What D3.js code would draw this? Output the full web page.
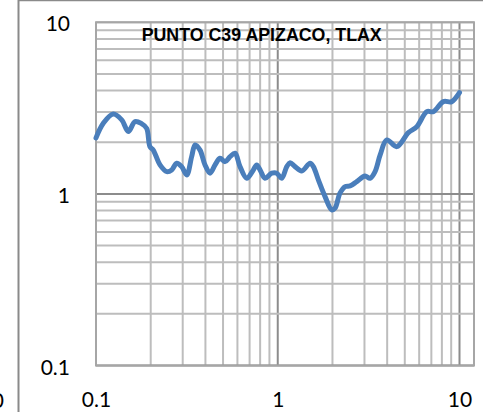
<!DOCTYPE html>
<html>
<head>
<meta charset="utf-8">
<script src="https://cdn.jsdelivr.net/npm/d3@7"></script>
<style>
  html, body { margin: 0; padding: 0; background: #fff; }
  svg { display: block; }
  .lbl { font-family: "Lato", "Liberation Sans", sans-serif; font-size: 21px; fill: #000; }
  .title { font-family: "Liberation Sans", sans-serif; font-weight: bold; font-size: 17.8px; fill: #000; }
</style>
</head>
<body>
<svg id="chart" width="483" height="412"></svg>
<script>
// Spectral ratio curve, log-log
const period = [0.1, 0.1097, 0.1245, 0.1385, 0.1506, 0.164, 0.178, 0.190, 0.198, 0.2066,
  0.225, 0.245, 0.261, 0.278, 0.296, 0.3157, 0.336, 0.351, 0.3736, 0.398,
  0.424, 0.452, 0.481, 0.513, 0.5465, 0.582, 0.620, 0.675, 0.734, 0.766,
  0.799, 0.851, 0.927, 0.987, 1.052, 1.121, 1.169, 1.245, 1.355, 1.506,
  1.570, 1.673, 1.821, 1.982, 2.066, 2.20, 2.35, 2.50, 2.72, 3.02,
  3.22, 3.43, 3.66, 3.98, 4.52, 5.23, 5.82, 6.61, 7.18, 8.15,
  9.07, 10.0];
const ratio = [2.12, 2.58, 2.92, 2.70, 2.31, 2.64, 2.57, 2.41, 1.886, 1.80,
  1.475, 1.349, 1.38, 1.51, 1.442, 1.29, 1.649, 1.93, 1.80, 1.475,
  1.32, 1.475, 1.614, 1.542, 1.649, 1.726, 1.442, 1.234, 1.38, 1.475,
  1.38, 1.234, 1.32, 1.32, 1.234, 1.442, 1.52, 1.442, 1.361, 1.51,
  1.442, 1.206, 0.964, 0.807, 0.825, 1.01, 1.103, 1.113, 1.179, 1.273,
  1.234, 1.349, 1.687, 2.063, 1.886, 2.275, 2.466, 3.015, 3.015, 3.45,
  3.45, 3.89];
const xTickLabels = [0.1, 1, 10];
const yTickLabels = [0.1, 1, 10];
const chartTitle = "PUNTO C39 APIZACO, TLAX";

const svg = d3.select("#chart");
const plot = { left: 96, right: 474, top: 22.3, bottom: 365.5 };

const x = d3.scaleLog().domain([0.1, 10]).range([96, 459.5]);
const y = d3.scaleLog().domain([0.1, 10]).range([plot.bottom, plot.top]);

// outer frame pieces
svg.append("line").attr("x1", 18.5).attr("x2", 18.5).attr("y1", 0).attr("y2", 412)
  .attr("stroke", "#8a8a8a").attr("stroke-width", 2);
svg.append("line").attr("x1", 18).attr("x2", 483).attr("y1", 0.5).attr("y2", 0.5)
  .attr("stroke", "#8a8a8a").attr("stroke-width", 1.5);
// clipped label from the neighbouring panel
svg.append("text").attr("class", "lbl").attr("x", 4).attr("y", 399)
  .attr("text-anchor", "end").attr("dominant-baseline", "central").text("10");

const isMajor = v => Math.abs(Math.log10(v) - Math.round(Math.log10(v))) < 1e-6;

// gridlines
const grid = svg.append("g");
const xt = x.ticks();
const yt = y.ticks();
grid.selectAll("line.gx").data(xt).join("line")
  .attr("x1", d => x(d)).attr("x2", d => x(d))
  .attr("y1", plot.top).attr("y2", plot.bottom)
  .attr("stroke", d => isMajor(d) ? "#8c8c8c" : "#bdbdbd")
  .attr("stroke-width", 2);
grid.selectAll("line.gy").data(yt).join("line")
  .attr("x1", plot.left).attr("x2", plot.right)
  .attr("y1", d => y(d)).attr("y2", d => y(d))
  .attr("stroke", d => isMajor(d) && d !== 10 ? "#8c8c8c" : "#bdbdbd")
  .attr("stroke-width", 2);

// plot border
svg.append("rect").attr("x", plot.left).attr("y", plot.top)
  .attr("width", plot.right - plot.left).attr("height", plot.bottom - plot.top)
  .attr("fill", "none").attr("stroke", "#a6a6a6").attr("stroke-width", 2);

// axes labels
const xAxis = d3.axisBottom(x).tickValues(xTickLabels).tickSize(0).tickPadding(0)
  .tickFormat(d3.format("~g"));
const gx = svg.append("g").attr("transform", "translate(0,398)").call(xAxis);
gx.select(".domain").remove();
gx.selectAll("text").attr("class", "lbl").attr("dy", null).attr("y", 0)
  .attr("dominant-baseline", "central").attr("font-size", null).attr("font-family", null);

const yAxis = d3.axisLeft(y).tickValues(yTickLabels).tickSize(0).tickPadding(0)
  .tickFormat(d3.format("~g"));
const gy = svg.append("g").attr("transform", "translate(70,0)").call(yAxis);
gy.select(".domain").remove();
gy.selectAll("text").attr("class", "lbl").attr("dy", null).attr("x", 0)
  .attr("dominant-baseline", "central").attr("font-size", null).attr("font-family", null);

// title
svg.append("text").attr("class", "title").attr("x", 261.7).attr("y", 41)
  .attr("text-anchor", "middle").text(chartTitle);

// data curve
const line = d3.line()
  .x((d, i) => x(period[i]))
  .y((d, i) => y(ratio[i]))
  .curve(d3.curveCatmullRom.alpha(0.5));
svg.append("path").datum(period)
  .attr("d", line)
  .attr("fill", "none")
  .attr("stroke", "#4a7ebb")
  .attr("stroke-width", 5)
  .attr("stroke-linejoin", "round")
  .attr("stroke-linecap", "round");
</script>
</body>
</html>
